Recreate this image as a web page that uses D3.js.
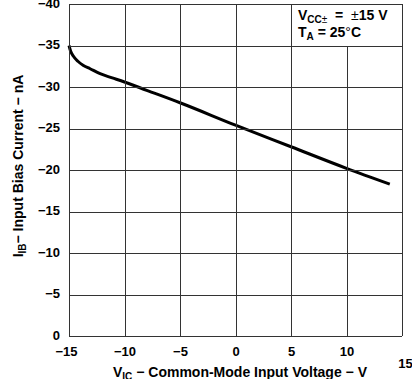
<!DOCTYPE html>
<html>
<head>
<meta charset="utf-8">
<script src="https://cdn.jsdelivr.net/npm/d3@7"></script>
</head>
<body style="margin:0">
<div id="app"></div>
<script>
// input bias current vs common-mode input voltage

const vic = [-15, -14.85, -14.6, -14.2, -13.7, -13.1, -12.2, -11.1, -10, -8, -5, 0, 5, 10, 13.9];
const iib = [-35, -34.3, -33.7, -33.1, -32.6, -32.2, -31.6, -31.1, -30.6, -29.6, -28.1, -25.4, -22.8, -20.2, -18.3];
const xTicks = [-15, -10, -5, 0, 5, 10, 15];
const yTicks = [0, -5, -10, -15, -20, -25, -30, -35, -40];

const margin = { top: 4, right: 10, bottom: 43, left: 69 };
const width = 412;
const height = 379;

const svg = d3.select("#app")
  .append("svg")
  .attr("width", width)
  .attr("height", height)
  .attr("font-family", "Liberation Sans, Arial, sans-serif")
  .attr("font-weight", "bold");

const xScale = d3.scaleLinear()
  .domain([-15, 15])
  .range([margin.left, width - margin.right]);

const yScale = d3.scaleLinear()
  .domain([0, -40])
  .range([height - margin.bottom, margin.top]);

const x0 = xScale(-15), x1 = xScale(15);
const y0 = yScale(0), y1 = yScale(-40);

// curve
const line = d3.line()
  .x((d, i) => xScale(vic[i]))
  .y(d => yScale(d))
  .curve(d3.curveMonotoneX);

svg.append("path")
  .datum(iib)
  .attr("d", line)
  .attr("fill", "none")
  .attr("stroke", "#000")
  .attr("stroke-width", 3);

// grid drawn after the curve
svg.append("g")
  .selectAll("line")
  .data(yTicks)
  .join("line")
  .attr("x1", x0)
  .attr("x2", x1)
  .attr("y1", d => Math.round(yScale(d)) + 0.5)
  .attr("y2", d => Math.round(yScale(d)) + 0.5)
  .attr("stroke", "#333")
  .attr("stroke-width", 1);

svg.append("g")
  .selectAll("line")
  .data(xTicks)
  .join("line")
  .attr("x1", d => Math.round(xScale(d)) + 0.5)
  .attr("x2", d => Math.round(xScale(d)) + 0.5)
  .attr("y1", d => d === 10 ? Math.round(yScale(-35)) : y1)
  .attr("y2", y0)
  .attr("stroke", "#333")
  .attr("stroke-width", 1);

// tick labels
const fmt = d => d < 0 ? "\u2212" + Math.abs(d) : d;

const xAxis = svg.append("g")
  .attr("transform", `translate(0,${y0})`)
  .call(d3.axisBottom(xScale).tickValues(xTicks).tickSize(0).tickPadding(11).tickFormat(fmt));
xAxis.select(".domain").remove();
xAxis.attr("font-family", null);
xAxis.selectAll("text")
  .attr("font-size", 13)
  .attr("fill", "#000")
  .attr("dx", d => d === -15 ? -3 : d === 15 ? 3 : 0)
  .attr("dy", d => d === 15 ? "1.6em" : "0.71em");

const yAxis = svg.append("g")
  .attr("transform", `translate(${x0},0)`)
  .call(d3.axisLeft(yScale).tickValues(yTicks).tickSize(0).tickPadding(9).tickFormat(fmt));
yAxis.select(".domain").remove();
yAxis.attr("font-family", null);
yAxis.selectAll("text")
  .attr("font-size", 13)
  .attr("fill", "#000")
  .attr("dy", "0.25em");

// axis titles
const xTitle = svg.append("text")
  .attr("x", 240)
  .attr("y", 377)
  .attr("text-anchor", "middle")
  .attr("font-size", 14);
xTitle.append("tspan").text("V");
xTitle.append("tspan").attr("font-size", 10).attr("dy", 3).text("IC");
xTitle.append("tspan").attr("dy", -3).text(" \u2212 Common-Mode Input Voltage \u2212 V");

const yTitle = svg.append("text")
  .attr("transform", "translate(23,166) rotate(-90)")
  .attr("text-anchor", "middle")
  .attr("font-size", 14);
yTitle.append("tspan").text("I");
yTitle.append("tspan").attr("font-size", 10).attr("dy", 3).text("IB");
yTitle.append("tspan").attr("dy", -3).text("\u2212 Input Bias Current \u2212 nA");

// conditions text
const lx = xScale(5) + 7;
const l1 = svg.append("text").attr("x", lx).attr("y", 20).attr("font-size", 14);
l1.append("tspan").text("V");
l1.append("tspan").attr("font-size", 10).attr("dy", 3).text("CC");
l1.append("tspan").attr("font-size", 10).attr("font-weight", "normal").text("\u00b1");
l1.append("tspan").attr("dy", -3).text("\u00a0\u00a0=\u00a0\u00a0");
l1.append("tspan").attr("font-weight", "normal").text("\u00b1");
l1.append("tspan").text("15 V");

const l2 = svg.append("text").attr("x", lx).attr("y", 37).attr("font-size", 14);
l2.append("tspan").text("T");
l2.append("tspan").attr("font-size", 10).attr("dy", 3).text("A");
l2.append("tspan").attr("dy", -3).text(" = 25");
l2.append("tspan").attr("font-weight", "normal").text("\u00b0");
l2.append("tspan").text("C");
</script>
</body>
</html>
